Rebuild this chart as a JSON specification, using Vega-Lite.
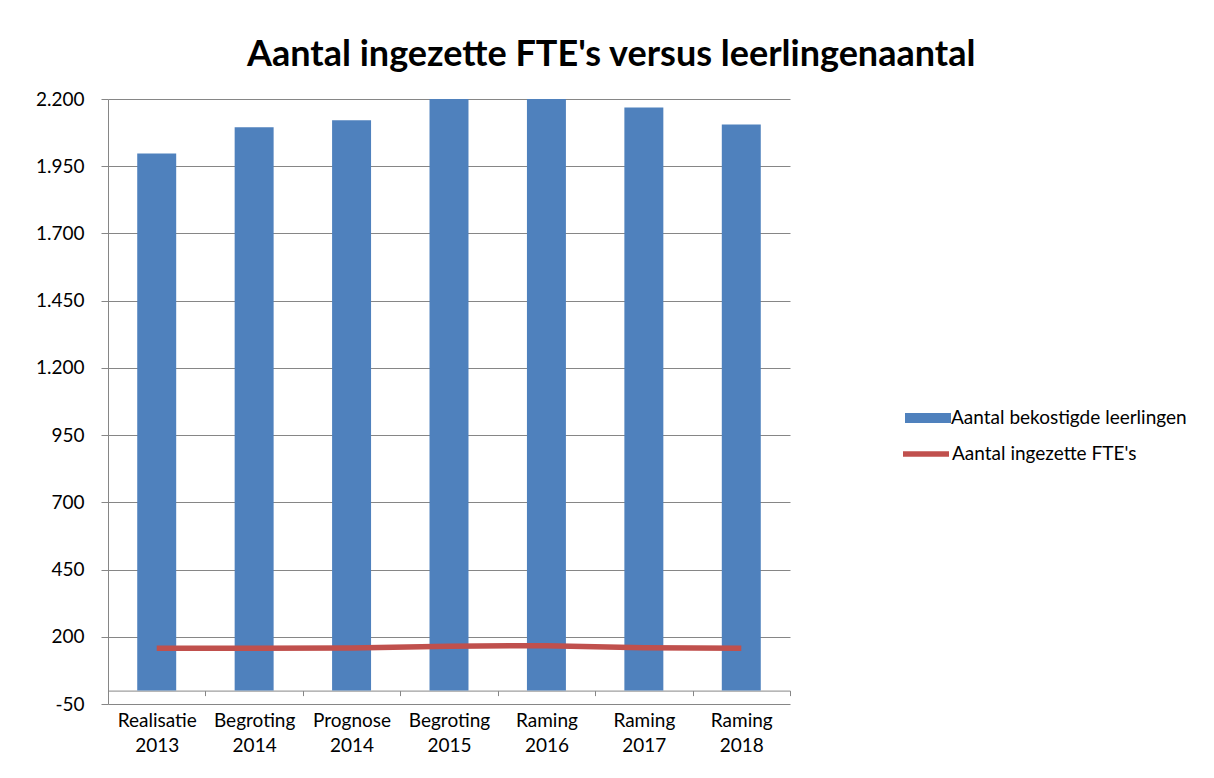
{
  "$schema": "https://vega.github.io/schema/vega-lite/v6.json",
  "autosize": {"type": "none"},
  "padding": {"left": 108, "top": 99, "right": 424, "bottom": 74},
  "width": 682,
  "height": 605,
  "background": "white",
  "title": {
    "text": "Aantal ingezette FTE's versus leerlingenaantal",
    "frame": "bounds",
    "anchor": "middle",
    "font": "Lato",
    "fontWeight": "bold",
    "fontSize": 36,
    "color": "#000000",
    "baseline": "alphabetic",
    "offset": -12
  },
  "data": {
    "values": [
      {"periode": "Realisatie 2013", "leerlingen": 1997, "fte": 157},
      {"periode": "Begroting 2014", "leerlingen": 2095, "fte": 157},
      {"periode": "Prognose 2014", "leerlingen": 2121, "fte": 158},
      {"periode": "Begroting 2015", "leerlingen": 2200, "fte": 165},
      {"periode": "Raming 2016", "leerlingen": 2200, "fte": 167},
      {"periode": "Raming 2017", "leerlingen": 2168, "fte": 159},
      {"periode": "Raming 2018", "leerlingen": 2105, "fte": 157}
    ]
  },
  "layer": [
    {
      "mark": {"type": "bar", "width": {"band": 0.4}, "color": "#4F81BD"},
      "encoding": {
        "x": {
          "field": "periode",
          "type": "nominal",
          "sort": null,
          "scale": {"paddingInner": 0, "paddingOuter": 0},
          "axis": {
            "title": null,
            "labelAngle": 0,
            "labelExpr": "split(datum.label, ' ')",
            "offset": -13.4,
            "tickBand": "extent",
            "tickSize": 5,
            "labelPadding": 16,
            "labelLineHeight": 25,
            "domainColor": "#868686",
            "tickColor": "#868686",
            "labelFont": "Lato",
            "labelFontSize": 19,
            "labelColor": "#000000"
          }
        },
        "y": {
          "field": "leerlingen",
          "type": "quantitative",
          "scale": {"domain": [-50, 2200], "nice": false, "zero": false},
          "axis": {
            "title": null,
            "values": [-50, 200, 450, 700, 950, 1200, 1450, 1700, 1950, 2200],
            "grid": true,
            "gridColor": "#868686",
            "domainColor": "#868686",
            "tickColor": "#868686",
            "tickSize": 7,
            "labelPadding": 17,
            "labelFont": "Lato",
            "labelFontSize": 19,
            "labelColor": "#000000",
            "labelExpr": "datum.value < 0 ? '-50' : replace(format(datum.value, ','), ',', '.')"
          }
        },
        "y2": {"datum": 0},
        "color": {
          "datum": "Aantal bekostigde leerlingen",
          "scale": {"range": ["#4F81BD"]},
          "legend": {
            "orient": "none",
            "legendX": 797,
            "legendY": 296,
            "title": null,
            "padding": 0,
            "symbolType": "M-1,-0.22H1V0.22H-1Z",
            "symbolSize": 2116,
            "symbolStrokeWidth": 0,
            "labelFont": "Lato",
            "labelFontSize": 19,
            "labelColor": "#000000",
            "labelOffset": 0,
            "labelLimit": 400
          }
        }
      }
    },
    {
      "mark": {"type": "line", "strokeWidth": 5.5, "color": "#C0504D"},
      "encoding": {
        "x": {"field": "periode", "type": "nominal", "sort": null},
        "y": {"field": "fte", "type": "quantitative"},
        "color": {
          "datum": "Aantal ingezette FTE's",
          "scale": {"range": ["#C0504D"]},
          "legend": {
            "orient": "none",
            "legendX": 792,
            "legendY": 329,
            "title": null,
            "padding": 0,
            "symbolType": "stroke",
            "symbolSize": 2116,
            "symbolStrokeWidth": 5.5,
            "labelFont": "Lato",
            "labelFontSize": 19,
            "labelColor": "#000000",
            "labelOffset": 0,
            "labelLimit": 400
          }
        }
      }
    }
  ],
  "resolve": {"scale": {"color": "independent"}},
  "config": {"view": {"stroke": null}}
}
